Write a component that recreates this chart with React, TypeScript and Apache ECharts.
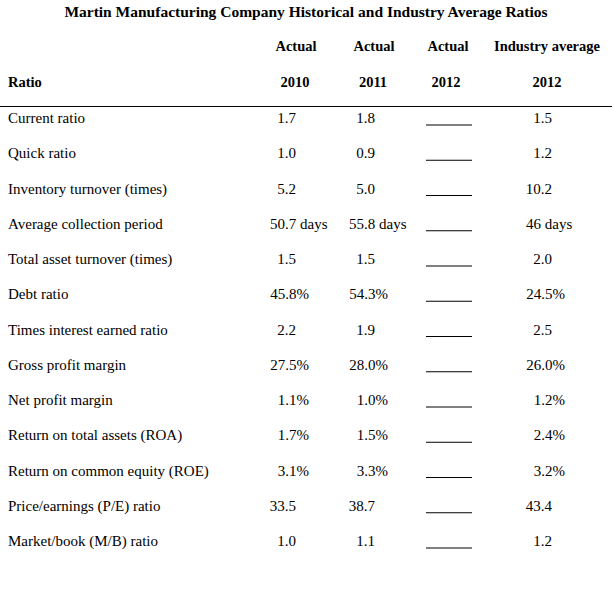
import React, { useEffect, useRef } from "react";
import * as echarts from "echarts";

const titleText = "Martin Manufacturing Company Historical and Industry Average Ratios";
const headerRow1 = ["Actual", "Actual", "Actual", "Industry average"];
const headerRow2 = ["2010", "2011", "2012", "2012"];
const firstHeader = "Ratio";
const ratioNames = [
  "Current ratio",
  "Quick ratio",
  "Inventory turnover (times)",
  "Average collection period",
  "Total asset turnover (times)",
  "Debt ratio",
  "Times interest earned ratio",
  "Gross profit margin",
  "Net profit margin",
  "Return on total assets (ROA)",
  "Return on common equity (ROE)",
  "Price/earnings (P/E) ratio",
  "Market/book (M/B) ratio",
];
const actual2010 = ["1.7", "1.0", "5.2", "50.7 days", "1.5", "45.8%", "2.2", "27.5%", "1.1%", "1.7%", "3.1%", "33.5", "1.0"];
const actual2011 = ["1.8", "0.9", "5.0", "55.8 days", "1.5", "54.3%", "1.9", "28.0%", "1.0%", "1.5%", "3.3%", "38.7", "1.1"];
const actual2012Blank = "______";
const industry2012 = ["1.5", "1.2", "10.2", "46 days", "2.0", "24.5%", "2.5", "26.0%", "1.2%", "2.4%", "3.2%", "43.4", "1.2"];

const FONT = "'Liberation Serif', 'Times New Roman', serif";

export default function App() {
  const ref = useRef<HTMLDivElement>(null);
  useEffect(() => {
    if (!ref.current) return;
    const chart = echarts.init(ref.current, null, { renderer: "svg" });
    const els: any[] = [];
    const txt = (x: number, y: number, text: string, align: string, bold = false, size = 15) => {
      els.push({
        type: "text",
        x,
        y,
        style: {
          text,
          fill: "#000",
          font: `${bold ? "bold " : ""}${size}px ${FONT}`,
          textAlign: align,
          textVerticalAlign: "middle",
        },
      });
    };
    // title
    txt(306, 11, titleText, "center", true, 15.5);
    const headCenters1 = [296, 374, 448, 547];
    const headCenters2 = [295, 373, 446, 547];
    headerRow1.forEach((h, i) => txt(headCenters1[i], 46, h, "center", true, 14.5));
    headerRow2.forEach((h, i) => txt(headCenters2[i], 82, h, "center", true, 14.5));
    txt(8, 82, firstHeader, "left", true, 14.5);
    els.push({
      type: "line",
      shape: { x1: 0, y1: 106.5, x2: 612, y2: 106.5 },
      style: { stroke: "#000", lineWidth: 1 },
    });
    const rowY0 = 118;
    const step = 35.25;
    const numEnds = [296, 375, 552];
    const place = (v: string, end: number, y: number) => {
      if (v.endsWith("%")) txt(end + 13, y, v, "right");
      else if (v.includes("days")) txt(end - 26, y, v, "left");
      else txt(end, y, v, "right");
    };
    ratioNames.forEach((name, i) => {
      const y = rowY0 + i * step;
      txt(8, y, name, "left");
      place(actual2010[i], numEnds[0], y);
      place(actual2011[i], numEnds[1], y);
      place(industry2012[i], numEnds[2], y);
      if (actual2012Blank) {
        els.push({
          type: "line",
          shape: { x1: 426, y1: y + 7, x2: 472, y2: y + 7 },
          style: { stroke: "#000", lineWidth: 1 },
        });
      }
    });
    chart.setOption({
      animation: false,
      backgroundColor: "#fff",
      graphic: { elements: els },
    });
    return () => chart.dispose();
  }, []);
  return (
    <div
      ref={ref}
      style={{ position: "fixed", left: 0, top: 0, width: 614, height: 599, background: "#fff" }}
    />
  );
}
